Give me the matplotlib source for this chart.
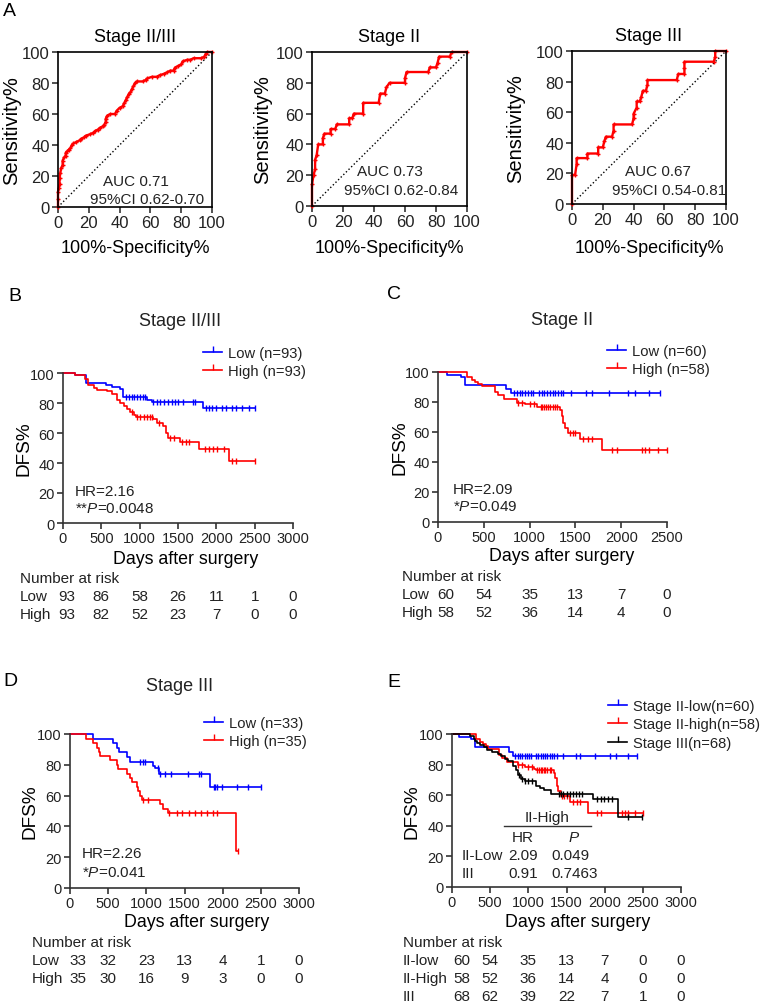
import numpy as np
import matplotlib
matplotlib.use("Agg")
import matplotlib.pyplot as plt
from matplotlib.lines import Line2D

plt.rcParams['font.family'] = ['Liberation Sans', 'DejaVu Sans']
plt.rcParams['mathtext.fontset'] = 'custom'
plt.rcParams['mathtext.rm'] = 'Liberation Sans'
plt.rcParams['mathtext.it'] = 'Liberation Sans:italic'

W, H = 760, 1004

# ---------------- ROC data (100%-specificity, sensitivity) ----------------
roc_all_x = [0, 0, 0, 0.5, 1, 1, 1.5, 2, 3, 3, 4, 5, 5, 6, 7, 8, 9, 10, 12, 14, 15, 17, 18, 21,
             23, 24, 26, 27, 29, 30, 31, 31, 32, 34, 37, 38, 40, 42, 43, 44, 45, 46, 47, 48, 49,
             50, 51, 55, 57, 58, 61, 64, 66, 69, 71, 73, 75, 76, 78, 80, 81, 84, 86, 88, 93, 95,
             96, 97, 100]
roc_all_y = [0, 5, 10, 12, 15, 19, 22, 25, 27, 30, 32, 33, 35, 36, 37, 38, 40, 41, 42, 43, 44, 45,
             46, 47, 48, 49, 50, 51, 52, 53, 55, 57, 59, 60, 60, 62, 64, 65, 67, 69, 71, 73, 74,
             76, 78, 80, 81, 81, 82, 83, 84, 84, 85, 86, 87, 88, 88, 90, 91, 92, 94, 95, 95, 96,
             96, 97, 99, 100, 100]

roc_ii_x = [0, 0, 1, 2, 2, 3, 4, 7, 7, 8, 12, 12, 15, 16, 24, 24, 26, 27, 33, 33, 43, 44, 47, 48,
            50, 60, 60, 61, 75, 76, 80, 81, 82, 89, 90, 100]
roc_ii_y = [0, 14, 20, 24, 30, 33, 40, 40, 44, 47, 47, 50, 50, 53, 53, 57, 57, 60, 60, 67, 67, 73,
            73, 77, 80, 80, 83, 87, 87, 90, 90, 93, 97, 97, 100, 100]

roc_iii_x = [0, 0, 2, 3, 3, 10, 10, 17, 17, 20, 21, 22, 26, 27, 27, 39, 40, 40, 42, 42, 44, 45, 46,
             48, 49, 49, 68, 69, 73, 73, 73, 92, 93, 93, 100]
roc_iii_y = [0, 19, 19, 26, 30, 30, 33, 33, 37, 37, 41, 44, 44, 48, 52, 52, 56, 59, 63, 67, 67, 70,
             74, 74, 78, 81, 81, 85, 85, 89, 93, 93, 96, 100, 100]

roc_titles = ["Stage II/III", "Stage II", "Stage III"]
roc_auc = ["AUC 0.71", "AUC 0.73", "AUC 0.67"]
roc_ci = ["95%CI 0.62-0.70", "95%CI 0.62-0.84", "95%CI 0.54-0.81"]

# ---------------- Kaplan-Meier data (step times, DFS%, last follow-up, censored times) -------
b_low_t = [0, 160, 300, 560, 640, 740, 780, 1090, 1160, 1830]
b_low_s = [100, 98.9, 93.3, 92.2, 91, 89.6, 84, 82.2, 80.4, 76.4]
b_low_end = 2500
b_low_c = [825, 860, 900, 930, 960, 1000, 1040, 1070, 1180, 1230, 1270, 1320, 1370, 1420, 1460,
           1500, 1560, 1690, 1720, 1860, 1900, 1940, 2000, 2080, 2120, 2200, 2250, 2340, 2430, 2500]

b_high_t = [0, 160, 290, 330, 400, 440, 570, 640, 700, 750, 800, 840, 880, 920, 950, 1180, 1220,
            1300, 1350, 1370, 1520, 1780, 2170]
b_high_s = [100, 99, 96, 92, 90, 89, 88, 86, 82, 80, 78, 76, 74, 72, 70.4, 69.5, 67, 65, 60,
            56.5, 54, 49.3, 41.6]
b_high_end = 2500
b_high_c = [900, 960, 1000, 1050, 1100, 1130, 1160, 1250, 1400, 1450, 1550, 1600, 1650, 1850,
            1900, 1950, 2010, 2100, 2200, 2250, 2500]

c_low_t = [0, 95, 250, 300, 745, 800]
c_low_s = [100, 98.3, 96.7, 91.3, 88.5, 85.8]
c_low_end = 2424
c_low_c = [830, 860, 890, 920, 950, 980, 1010, 1040, 1100, 1130, 1160, 1190, 1220, 1250, 1280,
           1310, 1340, 1370, 1450, 1620, 1680, 1870, 2070, 2150, 2300, 2424]

c_high_t = [0, 320, 367, 404, 440, 476, 622, 658, 720, 866, 950, 1077, 1100, 1332, 1350, 1370,
            1386, 1423, 1550, 1787]
c_high_s = [100, 97, 95, 93.5, 92, 90.5, 86.5, 84.5, 82, 79.5, 78.5, 77, 76.5, 74.5, 71, 66, 63,
            59.5, 55.5, 48.2]
c_high_end = 2496
c_high_c = [870, 920, 1000, 1050, 1120, 1140, 1160, 1180, 1200, 1220, 1250, 1280, 1300, 1440,
            1470, 1500, 1580, 1640, 1680, 1900, 1950, 2230, 2260, 2300, 2400, 2496]

d_low_t = [0, 306, 568, 611, 640, 750, 780, 1092, 1110, 1170, 1838]
d_low_s = [100, 97, 94, 91, 88, 85, 81.6, 79, 78, 74.1, 65.9]
d_low_end = 2500
d_low_c = [920, 950, 980, 1150, 1180, 1250, 1320, 1540, 1690, 1710, 1880, 1900, 1930, 1990, 2190,
           2330, 2500]

d_high_t = [0, 210, 297, 350, 384, 393, 524, 611, 630, 742, 786, 810, 873, 895, 915, 939, 1179,
            1223, 1288, 2175]
d_high_s = [100, 97, 94, 91, 88, 85.7, 82.8, 80, 77.2, 74.3, 71.4, 68.6, 65.7, 62.9, 60, 57.1,
            54.3, 51.4, 48.6, 24.3]
d_high_end = 2200
d_high_c = [960, 1020, 1300, 1400, 1470, 1560, 1640, 1720, 1800, 1870, 1920, 2200]

e_iii_t = [0, 240, 283, 300, 330, 371, 420, 458, 520, 600, 640, 700, 740, 800, 840, 870, 900, 950,
           1100, 1150, 1200, 1300, 1850, 2170]
e_iii_s = [100, 98.5, 97, 95.5, 94, 92.6, 91.2, 89.7, 88.2, 86.8, 85.3, 83.8, 82.4, 79.4, 76.5,
           73.5, 70.6, 69.1, 66.2, 64.7, 63.2, 60.9, 57.6, 45.5]
e_iii_end = 2490
e_iii_c = [880, 920, 960, 1000, 1050, 1400, 1430, 1460, 1500, 1540, 1580, 1620, 1660, 1700, 1900,
           1950, 1990, 2050, 2090, 2300, 2490]

# number at risk
risk_times_3000 = [0, 500, 1000, 1500, 2000, 2500, 3000]
risk_times_2500 = [0, 500, 1000, 1500, 2000, 2500]
b_risk_low = [93, 86, 58, 26, 11, 1, 0]
b_risk_high = [93, 82, 52, 23, 7, 0, 0]
c_risk_low = [60, 54, 35, 13, 7, 0]
c_risk_high = [58, 52, 36, 14, 4, 0]
d_risk_low = [33, 32, 23, 13, 4, 1, 0]
d_risk_high = [35, 30, 16, 9, 3, 0, 0]
e_risk_iil = [60, 54, 35, 13, 7, 0, 0]
e_risk_iih = [58, 52, 36, 14, 4, 0, 0]
e_risk_iii = [68, 62, 39, 22, 7, 1, 0]

RED = '#ff0000'
BLUE = '#0000ff'
BLACK = '#000000'
TXT = '#222222'

fig = plt.figure(figsize=(W / 100, H / 100), dpi=100)


def box(l, t, r, b):
    return [l / W, 1 - b / H, (r - l) / W, (b - t) / H]


def ftext(x, y, s, **kw):
    kw.setdefault('va', 'center')
    kw.setdefault('fontsize', 11)
    kw.setdefault('color', TXT)
    fig.text(x / W, 1 - y / H, s, **kw)


# ---------------- Panel A: ROC ----------------
roc_boxes = [(58, 53, 212, 208), (312, 53, 467, 207), (572, 52, 726, 205)]
roc_x = [roc_all_x, roc_ii_x, roc_iii_x]
roc_y = [roc_all_y, roc_ii_y, roc_iii_y]
roc_ylab_x = [21, 272, 525]
auc_pos = [(103, 182, 90, 200), (357, 172, 344, 191), (625, 172, 612, 191)]
for i in range(3):
    ax = fig.add_axes(box(*roc_boxes[i]))
    ax.plot([0, 100], [0, 100], ls=':', color='black', lw=1)
    ax.plot(roc_x[i], roc_y[i], color=RED, lw=1.7, marker='+', ms=3.5, mew=1, clip_on=False)
    ax.set_xlim(0, 100)
    ax.set_ylim(0, 100)
    ax.set_xticks(range(0, 101, 20))
    ax.set_yticks(range(0, 101, 20))
    ax.tick_params(direction='out', length=4, width=1.1, labelsize=12, pad=2, colors=TXT)
    for sp in ax.spines.values():
        sp.set_linewidth(1.2)
    ax.set_title(roc_titles[i], fontsize=13, pad=8)
    ax.set_xlabel("100%-Specificity%", fontsize=13)
    ax.set_ylabel("Sensitivity%", fontsize=14.5)
    cx = (roc_boxes[i][0] + roc_boxes[i][2]) / 2
    cy = (roc_boxes[i][1] + roc_boxes[i][3]) / 2
    ax.xaxis.set_label_coords(cx / W, 1 - 240 / H, transform=fig.transFigure)
    ax.yaxis.set_label_coords(roc_ylab_x[i] / W, 1 - cy / H, transform=fig.transFigure)
    ftext(auc_pos[i][0], auc_pos[i][1], roc_auc[i])
    ftext(auc_pos[i][2], auc_pos[i][3], roc_ci[i])

ftext(3, 12, "A", fontsize=14, color='black')


# ---------------- KM helpers ----------------
def km(ax, t, s, t_end, cens, color):
    tt = list(t) + [t_end]
    ss = list(s) + [s[-1]]
    ax.step(tt, ss, where='post', color=color, lw=1.2, clip_on=False)
    idx = np.searchsorted(t, cens, side='right') - 1
    ax.plot(cens, np.array(s)[idx], ls='none', marker='|', ms=4, mew=1, color=color, clip_on=False)


def km_axes(b, xmax, ylab_x, xlab_cx, xlab_top):
    ax = fig.add_axes(box(*b))
    ax.set_xlim(0, xmax)
    ax.set_ylim(0, 100)
    ax.set_xticks(range(0, xmax + 1, 500))
    ax.set_yticks(range(0, 101, 20))
    for sp in ['top', 'right']:
        ax.spines[sp].set_visible(False)
    for sp in ['left', 'bottom']:
        ax.spines[sp].set_linewidth(1.2)
        ax.spines[sp].set_color('#333333')
    ax.tick_params(direction='out', length=4, width=1.1, labelsize=10.5, pad=2, colors=TXT)
    ax.set_xlabel("Days after surgery", fontsize=12.8)
    ax.set_ylabel("DFS%", fontsize=13.7)
    ax.xaxis.set_label_coords(xlab_cx / W, 1 - xlab_top / H, transform=fig.transFigure)
    ax.yaxis.set_label_coords(ylab_x / W, 1 - (b[1] + b[3]) / 2 / H, transform=fig.transFigure)
    return ax


def add_legend(ax, colors, labels, x, y, spacing=0.25):
    handles = [Line2D([], [], color=c, lw=1.2, marker=2, ms=4, mew=1) for c in colors]
    ax.legend(handles, labels, loc='upper left', bbox_to_anchor=(x / W, 1 - y / H),
              bbox_transform=fig.transFigure, frameon=False, borderpad=0, borderaxespad=0,
              handlelength=1.3, handletextpad=0.4, labelspacing=spacing, fontsize=10.6,
              labelcolor=TXT)


def risk_table(ax, x_label, y_rows, labels, rows, times, first_shift):
    ftext(x_label, y_rows[0] - 18, "Number at risk")
    for lab, yr, vals in zip(labels, y_rows, rows):
        ftext(x_label, yr, lab)
        for k, (tm, v) in enumerate(zip(times, vals)):
            xp = ax.transData.transform((tm, 0))[0]
            if k == 0:
                xp += first_shift
            ftext(xp, yr, str(v), ha='center')


# ---------------- Panel B ----------------
axB = km_axes((63, 374, 293, 524), 3000, 33, 186, 551)
km(axB, b_low_t, b_low_s, b_low_end, b_low_c, BLUE)
km(axB, b_high_t, b_high_s, b_high_end, b_high_c, RED)
ftext(180, 322, "Stage II/III", fontsize=13, ha='center')
ftext(8, 297, "B", fontsize=14, color='black')
add_legend(axB, [BLUE, RED], ["Low (n=93)", "High (n=93)"], 203, 347)
ftext(75, 492, "HR=2.16")
ftext(75, 509, r"**$\mathit{P}$=0.0048")
risk_table(axB, 20, [597, 615], ["Low", "High"], [b_risk_low, b_risk_high], risk_times_3000, 4)

# ---------------- Panel C ----------------
axC = km_axes((438, 373, 667, 523), 2500, 408, 562, 548)
km(axC, c_low_t, c_low_s, c_low_end, c_low_c, BLUE)
km(axC, c_high_t, c_high_s, c_high_end, c_high_c, RED)
ftext(562, 321, "Stage II", fontsize=13, ha='center')
ftext(387, 295, "C", fontsize=14, color='black')
add_legend(axC, [BLUE, RED], ["Low (n=60)", "High (n=58)"], 607, 345)
ftext(453, 490, "HR=2.09")
ftext(453, 507, r"*$\mathit{P}$=0.049")
risk_table(axC, 402, [595, 613], ["Low", "High"], [c_risk_low, c_risk_high], risk_times_2500, 8)

# ---------------- Panel D ----------------
axD = km_axes((70, 735, 299, 889), 3000, 39, 197, 914)
km(axD, d_low_t, d_low_s, d_low_end, d_low_c, BLUE)
km(axD, d_high_t, d_high_s, d_high_end, d_high_c, RED)
ftext(180, 687, "Stage III", fontsize=13, ha='center')
ftext(3, 682, "D", fontsize=14, color='black')
add_legend(axD, [BLUE, RED], ["Low (n=33)", "High (n=35)"], 204, 717)
ftext(82, 854, "HR=2.26")
ftext(82, 873, r"*$\mathit{P}$=0.041")
risk_table(axD, 32, [961, 979], ["Low", "High"], [d_risk_low, d_risk_high], risk_times_3000, 8)

# ---------------- Panel E ----------------
axE = km_axes((452, 735, 681, 888), 3000, 420, 578, 914)
km(axE, c_low_t, c_low_s, c_low_end, c_low_c, BLUE)
km(axE, c_high_t, c_high_s, c_high_end, c_high_c, RED)
km(axE, e_iii_t, e_iii_s, e_iii_end, e_iii_c, BLACK)
ftext(387, 683, "E", fontsize=14, color='black')
add_legend(axE, [BLUE, RED, BLACK],
           ["Stage II-low(n=60)", "Stage II-high(n=58)", "Stage III(n=68)"], 608, 700, 0.3)
# HR / P inset table
ftext(547, 818, "II-High", ha='center')
fig.add_artist(Line2D([504 / W, 591 / W], [1 - 827 / H, 1 - 827 / H], color='#333333', lw=1))
ftext(523, 838, "HR", ha='center')
ftext(574, 838, r"$\mathit{P}$", ha='center')
ftext(462, 856, "II-Low")
ftext(523, 856, "2.09", ha='center')
ftext(551, 856, "0.049")
ftext(462, 874, "III")
ftext(523, 874, "0.91", ha='center')
ftext(551, 874, "0.7463")
risk_table(axE, 403, [961, 979, 997], ["II-low", "II-High", "III"],
           [e_risk_iil, e_risk_iih, e_risk_iii], risk_times_3000, 10)

fig.savefig("out.png", dpi=100)
